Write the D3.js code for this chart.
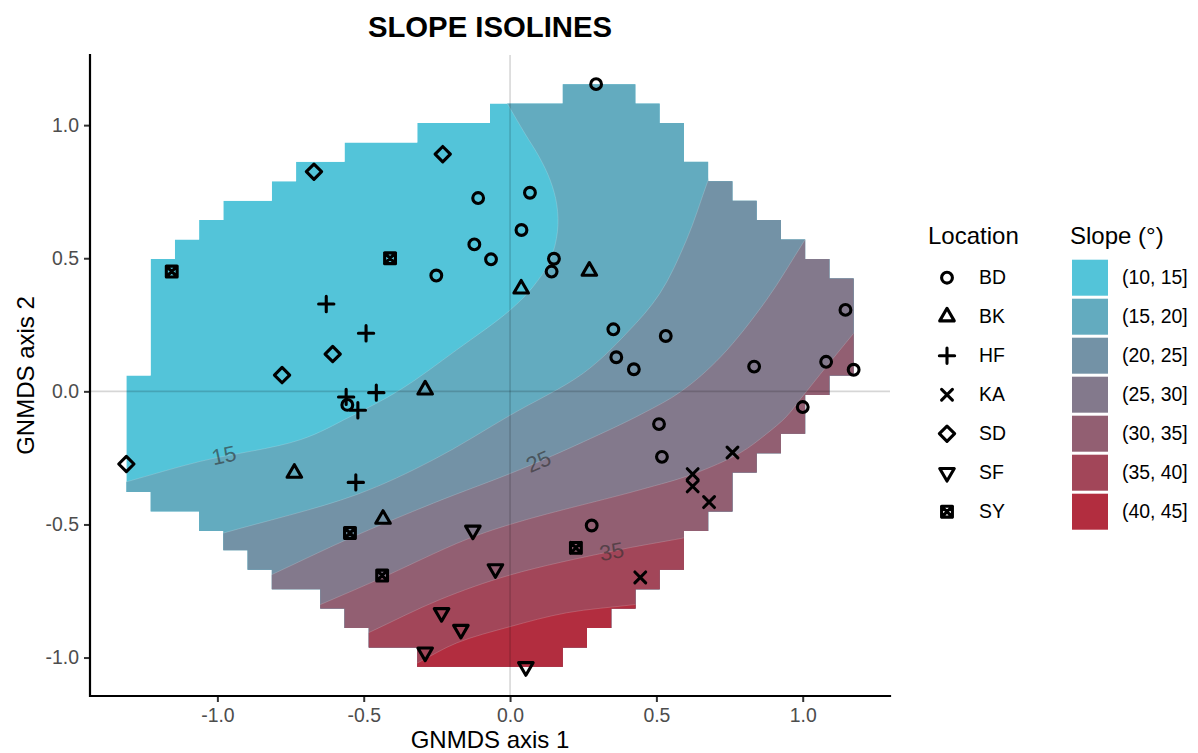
<!DOCTYPE html>
<html>
<head>
<meta charset="utf-8">
<script src="https://cdn.jsdelivr.net/npm/d3@7"></script>
<style>
  body { margin: 0; background: #fff; }
  svg { display: block; font-family: "Liberation Sans", Arial, Helvetica, sans-serif; }
</style>
</head>
<body>
<svg id="chart" width="1198" height="753"></svg>
<script>
// ---- site scores on GNMDS axes 1 and 2, one array per location ----
const BD = [[0.294,1.154],[-0.109,0.726],[0.068,0.746],[0.039,0.606],[-0.122,0.552],[-0.065,0.496],
            [-0.252,0.435],[0.150,0.498],[0.142,0.450],[0.353,0.233],[0.532,0.208],[1.146,0.306],
            [0.363,0.128],[0.423,0.083],[0.834,0.093],[1.080,0.111],[1.174,0.081],[1.000,-0.059],
            [0.509,-0.123],[0.519,-0.246],[0.279,-0.504],[-0.556,-0.051]];
const BK = [[0.271,0.452],[0.038,0.385],[-0.290,0.006],[-0.737,-0.307],[-0.434,-0.480]];
const HF = [[-0.628,0.328],[-0.492,0.218],[-0.457,-0.005],[-0.560,-0.021],[-0.520,-0.071],[-0.527,-0.342]];
const KA = [[0.760,-0.230],[0.624,-0.311],[0.624,-0.357],[0.680,-0.416],[0.445,-0.699]];
const SD = [[-0.230,0.891],[-0.670,0.825],[-0.606,0.140],[-0.779,0.061],[-1.311,-0.273]];
const SF = [[-0.127,-0.522],[-0.050,-0.667],[-0.234,-0.832],[-0.168,-0.895],[-0.290,-0.980],[0.054,-1.035]];
const SY = [[-1.156,0.450],[-0.410,0.500],[-0.547,-0.532],[-0.437,-0.692],[0.225,-0.588]];

const locations = ["BD", "BK", "HF", "KA", "SD", "SF", "SY"];
const siteScores = { BD, BK, HF, KA, SD, SF, SY };

// ---- slope classes (degrees) ----
const slopeClassLabels = ["(10, 15]", "(15, 20]", "(20, 25]", "(25, 30]", "(30, 35]", "(35, 40]", "(40, 45]"];

// ---- isolines of the fitted slope surface, each traced from its lower-left end ----
const isoline15 = [[-1.311,-0.340],[-1.058,-0.263],[-0.717,-0.182],[-0.546,-0.095],[-0.375,0.006],
                   [-0.182,0.156],[0.000,0.305],[0.080,0.395],[0.137,0.493],[0.162,0.600],
                   [0.160,0.700],[0.137,0.794],[0.100,0.880],[0.050,0.970],[-0.010,1.082]];
const isoline20 = [[-0.978,-0.532],[-0.527,-0.389],[-0.262,-0.257],[0.000,-0.090],[0.250,0.068],
                   [0.398,0.218],[0.512,0.368],[0.603,0.569],[0.677,0.794]];
const isoline25 = [[-0.813,-0.688],[-0.546,-0.551],[-0.262,-0.420],[0.034,-0.294],[0.250,-0.190],
                   [0.450,-0.085],[0.585,0.000],[0.720,0.130],[0.876,0.343],[1.007,0.568]];
const isoline30 = [[-0.648,-0.801],[-0.455,-0.709],[-0.148,-0.556],[0.034,-0.489],[0.444,-0.370],
                   [0.624,-0.311],[0.785,-0.232],[0.876,-0.160],[0.944,-0.095],[0.995,-0.025],
                   [1.081,0.093],[1.174,0.218]];
const isoline35 = [[-0.484,-0.907],[-0.239,-0.782],[0.000,-0.690],[0.347,-0.601],[0.592,-0.551]];
const isoline40 = [[-0.314,-1.019],[-0.182,-0.945],[0.000,-0.884],[0.193,-0.832],[0.427,-0.801]];
const isolines = [isoline15, isoline20, isoline25, isoline30, isoline35, isoline40];

// labelled isolines and where their labels sit
const contourLabelText = ["15", "25", "35"];
const contourLabelLine = [0, 2, 4];
const contourLabelAt = [[-0.978,-0.240],[0.097,-0.263],[0.347,-0.601]];

// ---- axis ticks ----
const xTicks = [-1, -0.5, 0, 0.5, 1];
const xTickLabels = ["-1.0", "-0.5", "0.0", "0.5", "1.0"];
const yTicks = [-1, -0.5, 0, 0.5, 1];
const yTickLabels = ["-1.0", "-0.5", "0.0", "0.5", "1.0"];

// ---- styling ----
const bandColors = ["#53C4D9", "#63ABBF", "#7392A6", "#83798C", "#925F72", "#A24659", "#B22D3F"];
const panel = { left: 90, right: 890, top: 55, bottom: 696 };
const symR = 5.4, symStroke = 3.1;

const svg = d3.select("#chart");

// all sites with their location
const sites = locations.flatMap(loc => siteScores[loc].map(([a1, a2]) => ({ loc, a1, a2 })));
const [x1min, x1max] = d3.extent(sites, d => d.a1);
const [x2min, x2max] = d3.extent(sites, d => d.a2);
const pad1 = (x1max - x1min) * 0.05, pad2 = (x2max - x2min) * 0.05;

const x = d3.scaleLinear().domain([x1min - pad1, x1max + pad1]).range([panel.left, panel.right]);
const y = d3.scaleLinear().domain([x2min - pad2, x2max + pad2]).range([panel.bottom, panel.top]);

// ---- prediction grid (31 x 31) limited to the convex hull pushed out by one grid step ----
const npoints = 31;
const step1 = (x1max - x1min) / (npoints - 1), step2 = (x2max - x2min) / (npoints - 1);
const xn1 = d3.range(npoints).map(i => x1min + i * step1);
const xn2 = d3.range(npoints).map(j => x2min + j * step2);
const hull = d3.polygonHull(sites.map(d => [d.a1, d.a2]));
const m1 = d3.mean(hull, p => p[0]), m2 = d3.mean(hull, p => p[1]);
const outerHull = hull.map(([a, b]) => [a + Math.sign(a - m1) * step1, b + Math.sign(b - m2) * step2]);
const inside = xn2.map(b => xn1.map(a => d3.polygonContains(outerHull, [a, b])));

let regionPath = "";
for (let j = 0; j < npoints - 1; j++) {
  for (let i = 0; i < npoints - 1; i++) {
    if (inside[j][i] && inside[j][i + 1] && inside[j + 1][i] && inside[j + 1][i + 1]) {
      const xa = x(xn1[i]), xb = x(xn1[i + 1]), ya = y(xn2[j + 1]), yb = y(xn2[j]);
      regionPath += `M${xa},${ya}H${xb}V${yb}H${xa}Z`;
    }
  }
}

const defs = svg.append("defs");
defs.append("clipPath").attr("id", "surface-clip")
  .append("path").attr("d", regionPath).attr("clip-rule", "nonzero");

// ---- slope bands ----
const isoCurve = d3.line().x(d => x(d[0])).y(d => y(d[1])).curve(d3.curveCatmullRom.alpha(0.5));

function extendEnds(pts, dist) {
  const unit = (a, b) => { const dx = a[0] - b[0], dy = a[1] - b[1], n = Math.hypot(dx, dy); return [dx / n, dy / n]; };
  const u0 = unit(pts[0], pts[1]);
  const n = pts.length;
  const u1 = unit(pts[n - 1], pts[n - 2]);
  return [[pts[0][0] + u0[0] * dist, pts[0][1] + u0[1] * dist], ...pts,
          [pts[n - 1][0] + u1[0] * dist, pts[n - 1][1] + u1[1] * dist]];
}

// area on the steeper (lower-right) side of an isoline
function highSide(pts) {
  const ext = extendEnds(pts, 0.25);
  const F = ext[0], L = ext[ext.length - 1];
  const far = 9;
  return isoCurve(ext) + `L${x(far)},${y(L[1])}L${x(far)},${y(-far)}L${x(F[0])},${y(-far)}Z`;
}

const surface = svg.append("g").attr("clip-path", "url(#surface-clip)");
surface.append("path").attr("d", regionPath).attr("fill", bandColors[0]);
surface.selectAll("path.band").data(isolines).join("path")
  .attr("class", "band")
  .attr("d", highSide)
  .attr("fill", (d, i) => bandColors[i + 1]);
surface.selectAll("path.iso").data(isolines).join("path")
  .attr("class", "iso")
  .attr("d", d => isoCurve(extendEnds(d, 0.25)))
  .attr("fill", "none").attr("stroke", "#fff").attr("stroke-opacity", 0.22).attr("stroke-width", 0.8);

// ---- isoline labels ----
function tangentAngle(pts, p) {
  let best = 0, bestD = Infinity;
  for (let k = 0; k < pts.length - 1; k++) {
    const mx = (pts[k][0] + pts[k + 1][0]) / 2, my = (pts[k][1] + pts[k + 1][1]) / 2;
    const dd = Math.hypot(mx - p[0], my - p[1]);
    if (dd < bestD) { bestD = dd; best = k; }
  }
  const a = pts[best], b = pts[best + 1];
  return Math.atan2(y(b[1]) - y(a[1]), x(b[0]) - x(a[0])) * 180 / Math.PI;
}
svg.append("g").selectAll("text").data(contourLabelText).join("text")
  .attr("transform", (d, k) => {
    const p = contourLabelAt[k];
    return `translate(${x(p[0])},${y(p[1])}) rotate(${tangentAngle(isolines[contourLabelLine[k]], p)})`;
  })
  .attr("text-anchor", "middle").attr("dy", "0.35em")
  .attr("font-size", 22).attr("fill", "#2e2e2e").attr("fill-opacity", 0.6)
  .text(d => d);

// ---- reference lines through the origin ----
svg.append("line").attr("x1", x(0)).attr("x2", x(0)).attr("y1", panel.top).attr("y2", panel.bottom)
  .attr("stroke", "#000").attr("stroke-opacity", 0.16).attr("stroke-width", 1.6);
svg.append("line").attr("x1", panel.left).attr("x2", panel.right).attr("y1", y(0)).attr("y2", y(0))
  .attr("stroke", "#000").attr("stroke-opacity", 0.16).attr("stroke-width", 1.6);

// ---- point symbols (open circle, triangles, plus, cross, diamond, boxed cross) ----
const TRC0 = Math.sqrt(4 * Math.PI / (3 * Math.sqrt(3))), TRC1 = TRC0 * Math.sqrt(3) / 2, TRC2 = TRC0 / 2;
function symbolPath(loc, r) {
  const s2 = Math.SQRT2 * r;
  switch (loc) {
    case "BD": return `M${r},0A${r},${r} 0 1,1 ${-r},0A${r},${r} 0 1,1 ${r},0Z`;
    case "BK": return `M0,${-TRC0 * r}L${TRC1 * r},${TRC2 * r}L${-TRC1 * r},${TRC2 * r}Z`;
    case "HF": return `M${-s2},0H${s2}M0,${-s2}V${s2}`;
    case "KA": return `M${-r},${-r}L${r},${r}M${-r},${r}L${r},${-r}`;
    case "SD": return `M0,${-s2}L${s2},0L0,${s2}L${-s2},0Z`;
    case "SF": return `M0,${TRC0 * r}L${TRC1 * r},${-TRC2 * r}L${-TRC1 * r},${-TRC2 * r}Z`;
    case "SY": return `M${-r},${-r}H${r}V${r}H${-r}ZM${-r},${-r}L${r},${r}M${-r},${r}L${r},${-r}`;
  }
}

svg.append("g").selectAll("path").data(sites).join("path")
  .attr("transform", d => `translate(${x(d.a1)},${y(d.a2)})`)
  .attr("d", d => symbolPath(d.loc, symR))
  .attr("fill", "none").attr("stroke", "#000").attr("stroke-width", symStroke)
  .attr("stroke-linejoin", "round").attr("stroke-linecap", "round");

// ---- axes ----
const xAxis = svg.append("g").attr("transform", `translate(0,${panel.bottom})`)
  .call(d3.axisBottom(x).tickValues(xTicks).tickFormat((d, i) => xTickLabels[i]).tickSize(6).tickPadding(6));
const yAxis = svg.append("g").attr("transform", `translate(${panel.left},0)`)
  .call(d3.axisLeft(y).tickValues(yTicks).tickFormat((d, i) => yTickLabels[i]).tickSize(6).tickPadding(5));
for (const ax of [xAxis, yAxis]) {
  ax.select(".domain").remove();
  ax.selectAll(".tick line").attr("stroke", "#333").attr("stroke-width", 2);
  ax.selectAll(".tick text").attr("fill", "#4D4D4D").attr("font-size", 19.4)
    .attr("font-family", "Liberation Sans, Arial, sans-serif");
}
svg.append("path")
  .attr("d", `M${panel.left},${panel.top}V${panel.bottom}H${panel.right}`)
  .attr("fill", "none").attr("stroke", "#000").attr("stroke-width", 2.2).attr("stroke-linecap", "square");

// ---- titles ----
svg.append("text").attr("x", (panel.left + panel.right) / 2).attr("y", 37)
  .attr("text-anchor", "middle").attr("font-size", 29.3).attr("font-weight", "bold").attr("fill", "#000")
  .text("SLOPE ISOLINES");
svg.append("text").attr("x", (panel.left + panel.right) / 2).attr("y", 748)
  .attr("text-anchor", "middle").attr("font-size", 24).attr("fill", "#000")
  .text("GNMDS axis 1");
svg.append("text").attr("transform", `translate(34,${(panel.top + panel.bottom) / 2}) rotate(-90)`)
  .attr("text-anchor", "middle").attr("font-size", 24).attr("fill", "#000")
  .text("GNMDS axis 2");

// ---- legends ----
const legendRowY = k => 277.7 + 39 * k;

const locLegend = svg.append("g");
locLegend.append("text").attr("x", 928).attr("y", 243.5).attr("font-size", 24).attr("fill", "#000").text("Location");
const locRows = locLegend.selectAll("g.row").data(locations).join("g").attr("class", "row")
  .attr("transform", (d, k) => `translate(947,${legendRowY(k)})`);
locRows.append("path").attr("d", d => symbolPath(d, symR))
  .attr("fill", "none").attr("stroke", "#000").attr("stroke-width", symStroke)
  .attr("stroke-linejoin", "round").attr("stroke-linecap", "round");
locRows.append("text").attr("x", 32).attr("dy", "0.35em").attr("font-size", 19.4).attr("fill", "#000").text(d => d);

const slopeLegend = svg.append("g");
slopeLegend.append("text").attr("x", 1070).attr("y", 243.5).attr("font-size", 24).attr("fill", "#000").text("Slope (°)");
const slopeRows = slopeLegend.selectAll("g.row").data(slopeClassLabels).join("g").attr("class", "row")
  .attr("transform", (d, k) => `translate(1072,${legendRowY(k)})`);
slopeRows.append("rect").attr("x", 0).attr("y", -18).attr("width", 36).attr("height", 36)
  .attr("fill", (d, k) => bandColors[k]);
slopeRows.append("text").attr("x", 50).attr("dy", "0.35em").attr("font-size", 19.4).attr("fill", "#000").text(d => d);
</script>
</body>
</html>
